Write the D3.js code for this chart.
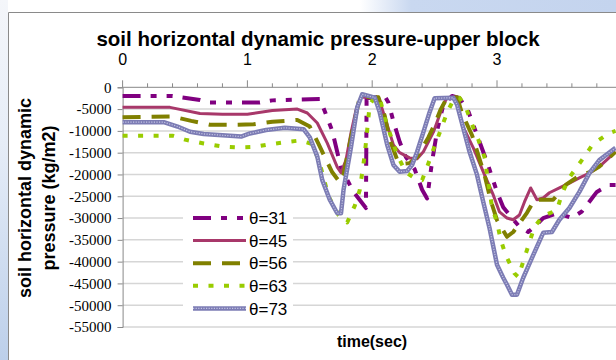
<!DOCTYPE html>
<html>
<head>
<meta charset="utf-8">
<script src="https://cdn.jsdelivr.net/npm/d3@7"></script>
<style>
  body { margin: 0; background: #fff; }
  svg { display: block; }
</style>
</head>
<body>
<div id="area"></div>
<script>
// time ticks (sec) and pressure ticks (kg/m2)
const xTicks = [0, 1, 2, 3];
const yTicks = [0, -5000, -10000, -15000, -20000, -25000, -30000, -35000, -40000, -45000, -50000, -55000];
const labels = ["θ=31", "θ=45", "θ=56", "θ=63", "θ=73"];

// [time, pressure]
const theta31 = [[0, -2000], [0.4, -2000], [0.62, -2900], [0.7, -3500], [1.1, -3500], [1.2, -3000], [1.5, -2750],
  [1.58, -2700], [1.62, -5500], [1.68, -10000], [1.75, -18500], [1.85, -24000], [1.95, -27700], [1.955, -2500],
  [2.1, -2000], [2.13, -3500], [2.17, -7800], [2.22, -12500], [2.27, -16000], [2.34, -18800], [2.4, -23500],
  [2.44, -25500], [2.48, -17000], [2.52, -10000], [2.57, -4000], [2.64, -2000], [2.7, -2500], [2.77, -5500],
  [2.86, -12500], [2.93, -18000], [3.0, -24000], [3.05, -27500], [3.12, -30000], [3.18, -32000], [3.25, -33200],
  [3.3, -32000], [3.37, -30000], [3.47, -29000], [3.55, -29500], [3.6, -30000], [3.68, -28500], [3.8, -24000],
  [3.9, -22400], [3.95, -22400]];
const theta45 = [[0, -4600], [0.38, -4600], [0.62, -6000], [0.8, -6200], [1.0, -6200], [1.2, -5300], [1.4, -5000],
  [1.48, -5900], [1.56, -8200], [1.64, -12800], [1.72, -18300], [1.75, -19600], [1.79, -16700], [1.83, -10500],
  [1.87, -5200], [1.91, -2300], [2.05, -2300], [2.12, -8600], [2.17, -13200], [2.22, -15000], [2.3, -16200],
  [2.36, -16400], [2.41, -14800], [2.49, -10300], [2.57, -4000], [2.6, -2400], [2.65, -2300], [2.68, -2900],
  [2.72, -8600], [2.81, -13900], [2.89, -19400], [2.97, -24700], [3.02, -28600], [3.08, -30000], [3.13, -30400],
  [3.18, -29300], [3.22, -26300], [3.27, -23100], [3.32, -25800], [3.37, -25400], [3.42, -24200], [3.5, -23100],
  [3.58, -22000], [3.66, -20800], [3.74, -19700], [3.82, -18200], [3.95, -14800]];
const theta56 = [[0, -6900], [0.4, -6700], [0.55, -7700], [0.7, -8600], [0.9, -8600], [1.05, -8500], [1.2, -7900],
  [1.4, -7500], [1.5, -9000], [1.57, -13000], [1.63, -16600], [1.68, -19500], [1.74, -21800], [1.77, -20100],
  [1.83, -11500], [1.9, -2300], [2.05, -2300], [2.1, -6500], [2.14, -12000], [2.2, -16600], [2.24, -17600],
  [2.3, -17400], [2.36, -16000], [2.45, -11500], [2.5, -8500], [2.55, -5000], [2.6, -2400], [2.68, -2300],
  [2.72, -6000], [2.8, -11000], [2.9, -20100], [2.95, -26000], [3.0, -30500], [3.08, -34300], [3.13, -33200],
  [3.24, -28800], [3.3, -25800], [3.45, -25800], [3.55, -22400], [3.67, -20100], [3.75, -19400], [3.82, -18200],
  [3.95, -14800]];
const theta63 = [[0, -11100], [0.4, -11100], [0.5, -12000], [0.65, -12900], [0.8, -13600], [0.95, -13800],
  [1.05, -13700], [1.15, -13200], [1.3, -12600], [1.42, -12200], [1.52, -13000], [1.58, -17500], [1.65, -25000],
  [1.73, -29300], [1.8, -31000], [1.86, -27200], [1.9, -23600], [1.94, -15500], [1.98, -4000], [2.02, -2300],
  [2.06, -2400], [2.1, -7000], [2.2, -15500], [2.27, -19500], [2.35, -21000], [2.4, -21300], [2.45, -17500],
  [2.5, -13500], [2.55, -9700], [2.6, -5800], [2.66, -2300], [2.7, -2400], [2.75, -4600], [2.8, -8500],
  [2.85, -12000], [2.9, -16000], [2.96, -27500], [3.0, -31000], [3.03, -35000], [3.07, -38500], [3.14, -42700],
  [3.17, -43500], [3.21, -40000], [3.3, -32000], [3.37, -29500], [3.48, -28200], [3.52, -24500], [3.58, -20700],
  [3.68, -16700], [3.77, -13000], [3.9, -10500], [3.95, -10000]];
const theta73 = [[0, -8000], [0.33, -8000], [0.44, -9000], [0.54, -10200], [0.65, -10700], [0.8, -11000],
  [0.95, -11300], [1.02, -10600], [1.15, -9800], [1.3, -9300], [1.45, -9600], [1.5, -11500], [1.56, -15900],
  [1.6, -21300], [1.66, -25800], [1.72, -28900], [1.75, -28900], [1.77, -23600], [1.83, -13700], [1.88, -4600],
  [1.92, -1600], [2.0, -2200], [2.02, -2300], [2.06, -5700], [2.12, -13200], [2.17, -17800], [2.22, -19400],
  [2.28, -19200], [2.32, -17800], [2.36, -14800], [2.41, -10300], [2.46, -5700], [2.5, -2500], [2.65, -2400],
  [2.68, -4000], [2.73, -9400], [2.78, -14800], [2.84, -20100], [2.89, -26300], [2.94, -32300], [3.0, -40700],
  [3.05, -43700], [3.08, -45300], [3.12, -47600], [3.16, -47600], [3.21, -43700], [3.29, -38500], [3.37, -33400],
  [3.44, -33200], [3.5, -30400], [3.58, -27700], [3.66, -24000], [3.74, -19700], [3.82, -16700], [3.95, -13900]];

const width = 616;
const height = 360;

const x = d3.scaleLinear().domain([0, 4]).range([122.6, 621.8]);
const y = d3.scaleLinear().domain([0, -55000]).range([87.3, 327]);

const svg = d3.select("#area").append("svg").attr("width", width).attr("height", height);

// slide background bits around the chart frame
const defs = svg.append("defs");
const gl = defs.append("linearGradient").attr("id", "leftg").attr("x1", 0).attr("y1", 0).attr("x2", 0).attr("y2", 1);
gl.append("stop").attr("offset", "0%").attr("stop-color", "#f4f6fa");
gl.append("stop").attr("offset", "40%").attr("stop-color", "#e6edf7");
gl.append("stop").attr("offset", "100%").attr("stop-color", "#bccfea");
const gt = defs.append("linearGradient").attr("id", "topg").attr("x1", 0).attr("y1", 0).attr("x2", 1).attr("y2", 0);
gt.append("stop").attr("offset", "0%").attr("stop-color", "#ffffff");
gt.append("stop").attr("offset", "20%").attr("stop-color", "#c9d8f0");
gt.append("stop").attr("offset", "100%").attr("stop-color", "#c4d4ee");
svg.append("rect").attr("x", 0).attr("y", 0).attr("width", 8).attr("height", height).attr("fill", "url(#leftg)");
svg.append("rect").attr("x", 360).attr("y", 0).attr("width", 256).attr("height", 12).attr("fill", "url(#topg)");
svg.append("path").attr("d", "M8.5,360V12.5H616").attr("fill", "none").attr("stroke", "#8a8a8a");

// gridlines
svg.append("g")
  .selectAll("line")
  .data(yTicks.slice(1))
  .join("line")
  .attr("x1", x(0)).attr("x2", width)
  .attr("y1", (d) => y(d)).attr("y2", (d) => y(d))
  .attr("stroke", "#d6d6d6").attr("stroke-width", 1.5);

// top x-axis: minor ticks every 0.2 s, labels on whole seconds
const xAxis = svg.append("g").attr("transform", `translate(0, ${y(0)})`);
xAxis.append("line").attr("x1", x(0)).attr("x2", width).attr("stroke", "#888");
xAxis.selectAll(".minor")
  .data(d3.range(0, 20).map((i) => i / 5))
  .join("line")
  .attr("x1", (d) => x(d)).attr("x2", (d) => x(d))
  .attr("y1", 0).attr("y2", (d) => (Number.isInteger(d) ? -7 : -4))
  .attr("stroke", "#888");
xAxis.selectAll("text")
  .data(xTicks)
  .join("text")
  .attr("x", (d) => x(d)).attr("y", -22)
  .attr("text-anchor", "middle")
  .attr("font-family", "Liberation Sans, Arial, sans-serif")
  .attr("font-size", 16)
  .text((d) => d);

// left y-axis
svg.append("g")
  .attr("transform", `translate(${x(0)}, 0)`)
  .call(d3.axisLeft(y).tickValues(yTicks).tickSize(5).tickPadding(6).tickFormat((d) => String(d)))
  .call((g) => g.select(".domain").attr("stroke", "#888"))
  .call((g) => g.selectAll(".tick line").attr("stroke", "#888"))
  .call((g) => g.selectAll("text")
    .attr("font-family", "Liberation Serif, Times New Roman, serif")
    .attr("font-size", 15).attr("fill", "#000"));

// titles
svg.append("text")
  .attr("x", 318).attr("y", 46)
  .attr("text-anchor", "middle")
  .attr("font-family", "Liberation Sans, Arial, sans-serif")
  .attr("font-weight", "bold").attr("font-size", 20.5)
  .text("soil horizontal dynamic pressure-upper block");
svg.append("text")
  .attr("x", 372).attr("y", 347)
  .attr("text-anchor", "middle")
  .attr("font-family", "Liberation Sans, Arial, sans-serif")
  .attr("font-weight", "bold").attr("font-size", 16)
  .text("time(sec)");
const yTitle = svg.append("text")
  .attr("transform", "translate(31, 198) rotate(-90)")
  .attr("text-anchor", "middle")
  .attr("font-family", "Liberation Sans, Arial, sans-serif")
  .attr("font-weight", "bold").attr("font-size", 18);
yTitle.append("tspan").attr("x", 0).attr("y", 0).text("soil horizontal dynamic");
yTitle.append("tspan").attr("x", 0).attr("y", 24).text("pressure (kg/m2)");

// series
const series = [
  { data: theta31, color: "#800080", width: 4, dash: "18,10,6,10,6,10" },
  { data: theta45, color: "#a8386a", width: 3, dash: null },
  { data: theta56, color: "#808000", width: 4, dash: "18,11" },
  { data: theta63, color: "#99cc00", width: 4, dash: "5,10.5" },
  { data: theta73, color: "#7c7cb4", width: 4.5, dash: null, texture: true },
];

const line = d3.line().x((d) => x(d[0])).y((d) => y(d[1]));

function drawStroke(sel, s) {
  sel.attr("fill", "none")
    .attr("stroke", s.color)
    .attr("stroke-width", s.width)
    .attr("stroke-linejoin", "round")
    .attr("stroke-dasharray", s.dash);
}

series.forEach((s) => {
  svg.append("path").attr("d", line(s.data)).call(drawStroke, s);
  if (s.texture) {
    svg.append("path").attr("d", line(s.data))
      .attr("fill", "none").attr("stroke", "#c4c4e4")
      .attr("stroke-width", 1.2).attr("stroke-dasharray", "1.2,1.4");
  }
});

// legend
const legend = svg.append("g");
legend.append("rect").attr("x", 183).attr("y", 205).attr("width", 110).attr("height", 114).attr("fill", "#fff");
series.forEach((s, i) => {
  const ly = 218 + i * 22.6;
  legend.append("line").attr("x1", 193).attr("x2", 246).attr("y1", ly).attr("y2", ly).call(drawStroke, s);
  if (s.texture) {
    legend.append("line").attr("x1", 193).attr("x2", 246).attr("y1", ly).attr("y2", ly)
      .attr("stroke", "#c4c4e4").attr("stroke-width", 1.2).attr("stroke-dasharray", "1.2,1.4");
  }
  legend.append("text")
    .attr("x", 249).attr("y", ly).attr("dy", "0.36em")
    .attr("font-family", "Liberation Sans, Arial, sans-serif")
    .attr("font-size", 17)
    .text(labels[i]);
});
</script>
</body>
</html>
